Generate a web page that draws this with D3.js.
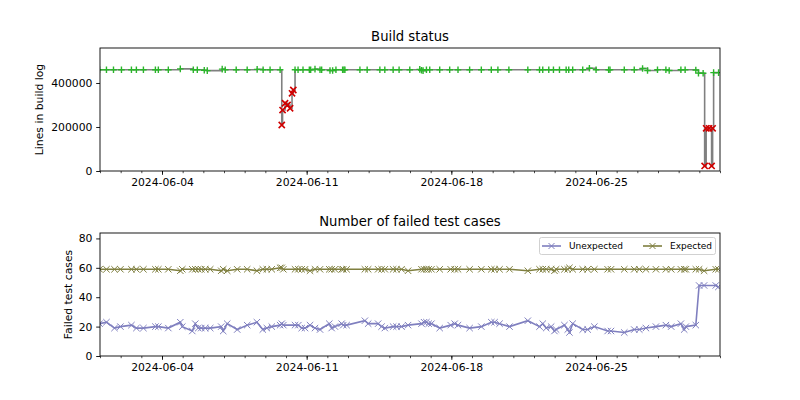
<!DOCTYPE html>
<html>
<head>
<meta charset="utf-8">
<script src="https://cdn.jsdelivr.net/npm/d3@7"></script>
<style>
body { margin: 0; background: #fff; }
text { font-family: "DejaVu Sans", sans-serif; }
</style>
</head>
<body>
<svg id="chart" width="800" height="400"></svg>
<script>
(function() {
    // build log sizes, one entry per build
    var buildTimes = [
        "2024-05-31T23:30", "2024-06-01T07:30", "2024-06-01T15:40", "2024-06-02T00:55", "2024-06-02T12:30",
        "2024-06-02T18:15", "2024-06-03T02:25", "2024-06-03T16:20", "2024-06-03T19:45", "2024-06-04T07:20",
        "2024-06-04T21:15", "2024-06-05T12:20", "2024-06-05T17:00", "2024-06-06T01:05", "2024-06-06T04:35",
        "2024-06-06T21:55", "2024-06-07T01:25", "2024-06-07T14:10", "2024-06-08T02:55", "2024-06-08T14:30",
        "2024-06-08T21:25", "2024-06-09T05:30", "2024-06-09T17:10", "2024-06-09T19:05", "2024-06-09T20:00",
        "2024-06-09T22:55", "2024-06-10T01:50", "2024-06-10T04:45", "2024-06-10T07:00", "2024-06-10T08:30",
        "2024-06-10T10:30", "2024-06-10T14:00", "2024-06-10T19:45", "2024-06-11T03:05", "2024-06-11T04:40",
        "2024-06-11T09:40", "2024-06-11T15:30", "2024-06-11T17:25", "2024-06-12T03:05", "2024-06-12T06:10",
        "2024-06-12T10:00", "2024-06-12T17:45", "2024-06-12T19:15", "2024-06-12T20:25", "2024-06-13T13:50",
        "2024-06-13T22:15", "2024-06-14T13:00", "2024-06-14T18:45", "2024-06-15T04:25", "2024-06-15T11:20",
        "2024-06-15T23:45", "2024-06-16T11:20", "2024-06-16T13:20", "2024-06-16T15:10", "2024-06-16T19:05",
        "2024-06-16T22:55", "2024-06-17T10:30", "2024-06-17T22:05", "2024-06-18T07:45", "2024-06-18T21:15",
        "2024-06-19T10:50", "2024-06-19T22:25", "2024-06-20T06:05", "2024-06-20T18:50", "2024-06-21T16:50",
        "2024-06-22T06:25", "2024-06-22T10:10", "2024-06-22T17:10", "2024-06-22T22:35", "2024-06-23T05:35",
        "2024-06-23T13:20", "2024-06-23T16:20", "2024-06-23T20:55", "2024-06-24T08:35", "2024-06-24T16:20",
        "2024-06-25T00:05", "2024-06-25T14:40", "2024-06-25T16:15", "2024-06-26T08:50", "2024-06-26T20:25",
        "2024-06-27T06:05", "2024-06-27T11:50", "2024-06-27T23:25", "2024-06-28T09:10", "2024-06-28T13:00",
        "2024-06-29T02:35", "2024-06-29T07:30", "2024-06-29T19:55", "2024-06-29T23:00", "2024-06-30T04:25",
        "2024-06-30T06:10", "2024-06-30T07:55", "2024-06-30T11:20", "2024-06-30T14:15", "2024-06-30T15:25",
        "2024-06-30T16:35", "2024-06-30T22:20"
    ];
    var buildLines = [
        460000, 460000, 460000, 460000, 460000,
        460000, 460000, 460000, 460000, 460000,
        464000, 460000, 460000, 458000, 456000,
        463000, 460000, 460000, 460000, 462000,
        460000, 460000, 460000, 209000, 277000,
        308000, 300000, 285000, 353000, 368000,
        460000, 460000, 460000, 460000, 460000,
        463000, 460000, 460000, 457000, 457000,
        460000, 460000, 460000, 460000, 460000,
        460000, 460000, 460000, 460000, 460000,
        460000, 462000, 458000, 456000, 460000,
        460000, 460000, 460000, 460000, 460000,
        460000, 460000, 460000, 460000, 460000,
        460000, 460000, 460000, 460000, 460000,
        460000, 460000, 460000, 460000, 467000,
        460000, 460000, 460000, 460000, 460000,
        466000, 457000, 460000, 460000, 457000,
        460000, 460000, 459000, 445000, 444000,
        23000, 194000, 194000, 23000, 194000,
        447000, 447000
    ];
    var buildStatus = [
        "ok", "ok", "ok", "ok", "ok", "ok", "ok", "ok", "ok", "ok",
        "ok", "ok", "ok", "ok", "ok", "ok", "ok", "ok", "ok", "ok",
        "ok", "ok", "ok", "fail", "fail", "fail", "fail", "fail", "fail", "fail",
        "ok", "ok", "ok", "ok", "ok", "ok", "ok", "ok", "ok", "ok",
        "ok", "ok", "ok", "ok", "ok", "ok", "ok", "ok", "ok", "ok",
        "ok", "ok", "ok", "ok", "ok", "ok", "ok", "ok", "ok", "ok",
        "ok", "ok", "ok", "ok", "ok", "ok", "ok", "ok", "ok", "ok",
        "ok", "ok", "ok", "ok", "ok", "ok", "ok", "ok", "ok", "ok",
        "ok", "ok", "ok", "ok", "ok", "ok", "ok", "ok", "ok", "ok",
        "fail", "fail", "fail", "fail", "fail", "ok", "ok"
    ];

    // failed test cases per test run
    var testTimes = [
        "2024-05-31T23:30", "2024-06-01T07:30", "2024-06-01T16:50", "2024-06-01T23:45", "2024-06-02T12:30",
        "2024-06-02T18:15", "2024-06-03T02:25", "2024-06-03T16:20", "2024-06-03T19:45", "2024-06-04T07:20",
        "2024-06-04T21:15", "2024-06-04T23:35", "2024-06-05T11:10", "2024-06-05T14:40", "2024-06-05T18:05",
        "2024-06-05T21:35", "2024-06-06T02:15", "2024-06-06T08:00", "2024-06-06T20:45", "2024-06-06T23:05",
        "2024-06-07T03:45", "2024-06-07T15:20", "2024-06-08T02:55", "2024-06-08T14:10", "2024-06-08T21:05",
        "2024-06-09T01:45", "2024-06-09T07:30", "2024-06-09T17:10", "2024-06-09T19:05", "2024-06-09T20:55",
        "2024-06-10T10:30", "2024-06-10T14:20", "2024-06-10T18:15", "2024-06-10T22:05", "2024-06-11T03:55",
        "2024-06-11T09:40", "2024-06-11T15:30", "2024-06-12T02:15", "2024-06-12T05:00", "2024-06-12T08:50",
        "2024-06-12T16:40", "2024-06-12T18:30", "2024-06-12T22:25", "2024-06-13T19:35", "2024-06-13T23:25",
        "2024-06-14T11:00", "2024-06-14T15:00", "2024-06-14T18:45", "2024-06-15T04:25", "2024-06-15T08:20",
        "2024-06-15T14:10", "2024-06-15T21:45", "2024-06-16T13:20", "2024-06-16T16:20", "2024-06-16T19:05",
        "2024-06-16T21:45", "2024-06-17T00:55", "2024-06-17T10:30", "2024-06-17T23:15", "2024-06-18T03:55",
        "2024-06-18T07:45", "2024-06-18T21:15", "2024-06-19T10:50", "2024-06-19T22:25", "2024-06-20T02:15",
        "2024-06-20T08:00", "2024-06-20T19:35", "2024-06-21T16:50", "2024-06-22T06:25", "2024-06-22T10:10",
        "2024-06-22T14:10", "2024-06-22T19:55", "2024-06-22T23:45", "2024-06-23T01:40", "2024-06-23T11:20",
        "2024-06-23T15:10", "2024-06-23T17:10", "2024-06-23T20:55", "2024-06-24T08:35", "2024-06-24T14:20",
        "2024-06-24T22:05", "2024-06-25T13:30", "2024-06-25T17:25", "2024-06-26T08:50", "2024-06-26T20:25",
        "2024-06-27T02:15", "2024-06-27T10:00", "2024-06-27T21:35", "2024-06-28T09:10", "2024-06-28T15:20",
        "2024-06-29T02:35", "2024-06-29T06:25", "2024-06-29T08:20", "2024-06-29T19:55", "2024-06-29T23:45",
        "2024-06-30T05:30", "2024-06-30T19:05", "2024-06-30T22:05"
    ];
    var unexpectedFails = [
        22, 23, 19, 20, 21, 19, 19, 20, 20, 19,
        23, 20, 17, 22, 19, 19, 19, 19, 20, 17,
        22, 18, 21, 23, 18, 19, 20, 21, 22, 21,
        21, 21, 19, 19, 21, 19, 18, 22, 19, 20,
        22, 21, 21, 24, 22, 22, 20, 19, 20, 20,
        20, 21, 22, 23, 23, 22, 22, 19, 21, 22,
        21, 19, 20, 23, 23, 22, 20, 24, 20, 22,
        19, 20, 17, 18, 21, 18, 16, 22, 18, 18,
        20, 17, 17, 16, 18, 18, 19, 20, 21, 20,
        22, 18, 20, 21, 48, 48, 48, 47
    ];
    var expectedFails = [
        59, 59, 59, 59, 59, 59, 59, 59, 59, 59,
        58, 59, 59, 59, 59, 59, 59, 59, 58, 59,
        58, 59, 59, 58, 59, 59, 59, 60, 60, 59,
        59, 59, 59, 59, 58, 59, 59, 59, 59, 59,
        59, 59, 59, 59, 59, 59, 59, 59, 59, 59,
        59, 58, 59, 59, 59, 59, 59, 59, 59, 59,
        59, 59, 59, 59, 59, 59, 59, 58, 59, 59,
        59, 59, 58, 59, 59, 59, 60, 59, 59, 59,
        59, 59, 59, 59, 59, 59, 59, 59, 59, 59,
        59, 59, 59, 59, 59, 58, 59, 59
    ];

    var dateTicks = ["2024-06-04", "2024-06-11", "2024-06-18", "2024-06-25"];
    var linesTicks = [0, 200000, 400000];
    var failTicks = [0, 20, 40, 60, 80];

    var parseTime = d3.timeParse("%Y-%m-%dT%H:%M");
    var parseDay = d3.timeParse("%Y-%m-%d");

    var left = 100, right = 720;
    var svg = d3.select("#chart");

    var x = d3.scaleTime()
        .domain([parseDay("2024-06-01"), parseDay("2024-07-01")])
        .range([left, right]);

    var builds = buildTimes.map((t, i) => ({t: parseTime(t), v: buildLines[i], s: buildStatus[i]}));
    var runs = testTimes.map((t, i) => ({t: parseTime(t), u: unexpectedFails[i], e: expectedFails[i]}));

    function plusPath(s) { return "M" + (-s) + ",0H" + s + "M0," + (-s) + "V" + s; }
    function crossPath(s) { return "M" + (-s) + "," + (-s) + "L" + s + "," + s + "M" + (-s) + "," + s + "L" + s + "," + (-s); }

    function drawFrame(top, bottom, y, yTicks, title, ylabel, id, labelX) {
        var g = svg.append("g");

        svg.append("clipPath").attr("id", id)
            .append("rect")
            .attr("x", left).attr("y", top)
            .attr("width", right - left).attr("height", bottom - top);

        // minor day ticks
        g.append("g")
            .attr("transform", "translate(0," + bottom + ")")
            .call(d3.axisBottom(x).ticks(d3.timeDay.every(1)).tickSize(2.2).tickFormat(""))
            .call(a => a.select(".domain").remove())
            .selectAll("line").attr("stroke-width", 0.7);

        var xa = g.append("g")
            .attr("transform", "translate(0," + bottom + ")")
            .call(d3.axisBottom(x)
                .tickValues(dateTicks.map(parseDay))
                .tickFormat(d3.timeFormat("%Y-%m-%d"))
                .tickSize(3.8)
                .tickPadding(3.8));
        xa.select(".domain").remove();
        xa.selectAll("line").attr("stroke-width", 0.9);
        xa.selectAll("text").attr("font-size", "10.8px").attr("font-family", "DejaVu Sans");

        var ya = g.append("g")
            .attr("transform", "translate(" + left + ",0)")
            .call(d3.axisLeft(y).tickValues(yTicks).tickFormat(d3.format("d")).tickSize(3.8).tickPadding(3.8));
        ya.select(".domain").remove();
        ya.selectAll("line").attr("stroke-width", 0.9);
        ya.selectAll("text").attr("font-size", "10.8px").attr("font-family", "DejaVu Sans");

        svg.append("text")
            .attr("x", (left + right) / 2)
            .attr("y", top - 7)
            .attr("text-anchor", "middle")
            .attr("font-size", "13.2px")
            .text(title);

        svg.append("text")
            .attr("transform", "translate(" + labelX + "," + ((top + bottom) / 2) + ") rotate(-90)")
            .attr("text-anchor", "middle")
            .attr("font-size", "10.8px")
            .text(ylabel);

        return g;
    }

    function drawBox(top, bottom) {
        svg.append("rect")
            .attr("x", left).attr("y", top)
            .attr("width", right - left).attr("height", bottom - top)
            .attr("fill", "none")
            .attr("stroke", "#000")
            .attr("stroke-width", 0.9);
    }

    // ---- Build status
    var top1 = 48, bottom1 = 171;
    var y1 = d3.scaleLinear().domain([0, 559000]).range([bottom1, top1]);
    drawFrame(top1, bottom1, y1, linesTicks, "Build status", "Lines in build log", "clip1", 43);

    var plot1 = svg.append("g").attr("clip-path", "url(#clip1)");
    plot1.append("path")
        .datum(builds)
        .attr("fill", "none")
        .attr("stroke", "#808080")
        .attr("stroke-width", 1.6)
        .attr("d", d3.line().curve(d3.curveStepAfter).x(d => x(d.t)).y(d => y1(d.v)));

    plot1.selectAll(".ok")
        .data(builds.filter(d => d.s == "ok"))
        .enter().append("path")
        .attr("class", "ok")
        .attr("transform", d => "translate(" + x(d.t) + "," + y1(d.v) + ")")
        .attr("d", plusPath(3.3))
        .attr("stroke", "#2ab52a")
        .attr("stroke-width", 1.4)
        .attr("fill", "none");

    plot1.selectAll(".fail")
        .data(builds.filter(d => d.s == "fail"))
        .enter().append("path")
        .attr("class", "fail")
        .attr("transform", d => "translate(" + x(d.t) + "," + y1(d.v) + ")")
        .attr("d", crossPath(3.1))
        .attr("stroke", "#d00000")
        .attr("stroke-width", 1.6)
        .attr("fill", "none");
    drawBox(top1, bottom1);

    // ---- Failed test cases
    var top2 = 233, bottom2 = 356;
    var y2 = d3.scaleLinear().domain([0, 83.7]).range([bottom2, top2]);
    drawFrame(top2, bottom2, y2, failTicks, "Number of failed test cases", "Failed test cases", "clip2", 72);

    var series = [
        {name: "Unexpected", key: "u", color: "#7f7fbf"},
        {name: "Expected", key: "e", color: "#7f7f3f"}
    ];

    var plot2 = svg.append("g").attr("clip-path", "url(#clip2)");
    series.forEach(function(s) {
        plot2.append("path")
            .datum(runs)
            .attr("fill", "none")
            .attr("stroke", s.color)
            .attr("stroke-width", 1.6)
            .attr("d", d3.line().x(d => x(d.t)).y(d => y2(d[s.key])));

        plot2.selectAll(".m-" + s.key)
            .data(runs)
            .enter().append("path")
            .attr("class", "m-" + s.key)
            .attr("transform", d => "translate(" + x(d.t) + "," + y2(d[s.key]) + ")")
            .attr("d", crossPath(3.2))
            .attr("stroke", s.color)
            .attr("stroke-width", 1)
            .attr("fill", "none");
    });
    drawBox(top2, bottom2);

    // legend
    var legend = svg.append("g");
    legend.append("rect")
        .attr("x", 539.5).attr("y", 237.5)
        .attr("width", 176).attr("height", 17)
        .attr("rx", 2)
        .attr("fill", "#fff")
        .attr("fill-opacity", 0.8)
        .attr("stroke", "#cccccc")
        .attr("stroke-width", 0.9);

    var legendX = [542, 643];
    series.forEach(function(s, i) {
        var lx = legendX[i];
        legend.append("line")
            .attr("x1", lx).attr("x2", lx + 19)
            .attr("y1", 246).attr("y2", 246)
            .attr("stroke", s.color)
            .attr("stroke-width", 1.6);
        legend.append("path")
            .attr("transform", "translate(" + (lx + 9.5) + ",246)")
            .attr("d", crossPath(3))
            .attr("stroke", s.color)
            .attr("fill", "none");
        legend.append("text")
            .attr("x", lx + 27)
            .attr("y", 249.2)
            .attr("font-size", "9px")
            .text(s.name);
    });
})();
</script>
</body>
</html>
